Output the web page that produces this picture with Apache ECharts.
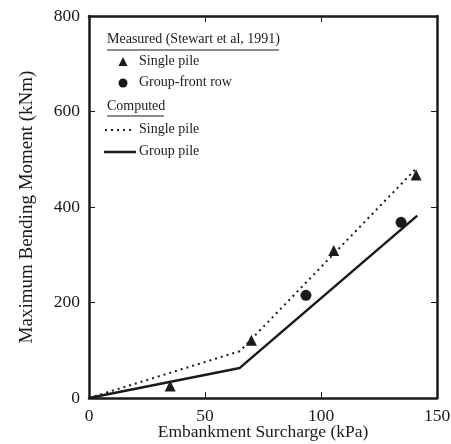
<!DOCTYPE html>
<html>
<head>
<meta charset="utf-8">
<script src="https://cdn.jsdelivr.net/npm/echarts@6/dist/echarts.min.js"></script>
<style>
  html, body { margin: 0; padding: 0; background: #fff; }
  #chart { width: 451px; height: 444px; }
</style>
</head>
<body>
<div id="chart"></div>
<script>
// Measured maximum bending moments (Stewart et al, 1991)
const singleMeasuredSurcharge = [35, 70, 105.5, 141];
const singleMeasuredMoment = [25, 121, 309, 467];
const groupMeasuredSurcharge = [93.5, 134.5];
const groupMeasuredMoment = [215, 368];

// Computed responses
const singleComputedSurcharge = [0, 65, 141.5];
const singleComputedMoment = [0, 98, 483];
const groupComputedSurcharge = [0, 65, 141.5];
const groupComputedMoment = [0, 63, 382];

// Axis ticks
const xTicks = [0, 50, 100, 150];
const yTicks = [0, 200, 400, 600, 800];

const pairs = (xs, ys) => xs.map((x, i) => [x, ys[i]]);

const FONT = '"Liberation Serif", "Times New Roman", serif';
const INK = '#1a1a1a';
const KEY_FONT = '14px ' + FONT;

const chart = echarts.init(document.getElementById('chart'), null, { renderer: 'canvas' });

const baseAxis = {
  axisLine: { show: true, onZero: false, lineStyle: { color: INK, width: 2.5 } },
  axisTick: { show: true, inside: true, length: 6, lineStyle: { color: INK, width: 1 } },
  splitLine: { show: false }
};

chart.setOption({
  animation: false,
  backgroundColor: '#fff',
  grid: { left: 89, right: 14, top: 16, bottom: 46, containLabel: false, outerBoundsMode: 'none' },
  xAxis: [
    Object.assign({}, baseAxis, {
      type: 'value', position: 'bottom',
      min: xTicks[0], max: xTicks[xTicks.length - 1], interval: 50,
      axisLabel: { color: INK, fontFamily: FONT, fontSize: 17.5, margin: 9 },
      name: 'Embankment Surcharge (kPa)', nameLocation: 'middle', nameGap: 25,
      nameMoveOverlap: false,
      nameTextStyle: { color: INK, fontFamily: FONT, fontSize: 17.5 }
    }),
    Object.assign({}, baseAxis, {
      type: 'value', position: 'top',
      min: xTicks[0], max: xTicks[xTicks.length - 1], interval: 50,
      axisLabel: { show: false }
    })
  ],
  yAxis: [
    Object.assign({}, baseAxis, {
      type: 'value', position: 'left',
      min: yTicks[0], max: yTicks[yTicks.length - 1], interval: 200,
      axisLabel: { color: INK, fontFamily: FONT, fontSize: 17.5, margin: 9 },
      name: 'Maximum Bending Moment (kNm)', nameLocation: 'middle', nameGap: 52,
      nameTextStyle: { color: INK, fontFamily: FONT, fontSize: 19 }
    }),
    Object.assign({}, baseAxis, {
      type: 'value', position: 'right',
      min: yTicks[0], max: yTicks[yTicks.length - 1], interval: 200,
      axisLabel: { show: false }
    })
  ],
  series: [
    {
      name: 'Single pile (computed)', type: 'line', xAxisIndex: 0, yAxisIndex: 0,
      data: pairs(singleComputedSurcharge, singleComputedMoment),
      showSymbol: false, symbol: 'none',
      lineStyle: { color: INK, width: 2, type: [2, 4] }
    },
    {
      name: 'Group pile (computed)', type: 'line', xAxisIndex: 0, yAxisIndex: 0,
      data: pairs(groupComputedSurcharge, groupComputedMoment),
      showSymbol: false, symbol: 'none',
      lineStyle: { color: INK, width: 2.5 }
    },
    {
      name: 'Single pile (measured)', type: 'scatter', xAxisIndex: 0, yAxisIndex: 0,
      data: pairs(singleMeasuredSurcharge, singleMeasuredMoment),
      symbol: 'triangle', symbolSize: 11,
      itemStyle: { color: INK, opacity: 1 }
    },
    {
      name: 'Group-front row (measured)', type: 'scatter', xAxisIndex: 0, yAxisIndex: 0,
      data: pairs(groupMeasuredSurcharge, groupMeasuredMoment),
      symbol: 'circle', symbolSize: 11,
      itemStyle: { color: INK, opacity: 1 }
    }
  ],
  graphic: [
    // Key: measured group
    { type: 'text', left: 107, top: 32, style: { text: 'Measured (Stewart et al, 1991)', font: KEY_FONT, fill: INK } },
    { type: 'line', shape: { x1: 107, y1: 50, x2: 279, y2: 50 }, style: { stroke: INK, lineWidth: 1 } },
    { type: 'polygon', shape: { points: [[123, 57], [118.5, 66], [127.5, 66]] }, style: { fill: INK } },
    { type: 'text', left: 139, top: 54, style: { text: 'Single pile', font: KEY_FONT, fill: INK } },
    { type: 'circle', shape: { cx: 123, cy: 83, r: 4.5 }, style: { fill: INK } },
    { type: 'text', left: 139, top: 75, style: { text: 'Group-front row', font: KEY_FONT, fill: INK } },
    // Key: computed group
    { type: 'text', left: 107, top: 99, style: { text: 'Computed', font: KEY_FONT, fill: INK } },
    { type: 'line', shape: { x1: 107, y1: 116, x2: 164, y2: 116 }, style: { stroke: INK, lineWidth: 1 } },
    { type: 'line', shape: { x1: 105, y1: 130, x2: 133, y2: 130 }, style: { stroke: INK, lineWidth: 2, lineDash: [2, 4] } },
    { type: 'text', left: 139, top: 122, style: { text: 'Single pile', font: KEY_FONT, fill: INK } },
    { type: 'line', shape: { x1: 104, y1: 152, x2: 136, y2: 152 }, style: { stroke: INK, lineWidth: 2.5 } },
    { type: 'text', left: 139, top: 144, style: { text: 'Group pile', font: KEY_FONT, fill: INK } }
  ]
});
</script>
</body>
</html>
